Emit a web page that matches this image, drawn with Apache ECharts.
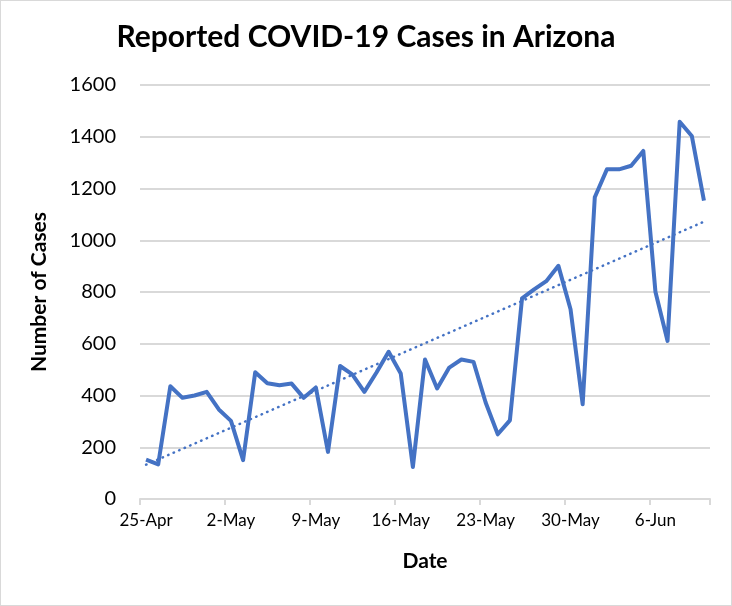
<!DOCTYPE html>
<html>
<head>
<meta charset="utf-8">
<script src="https://cdn.jsdelivr.net/npm/echarts@6/dist/echarts.min.js"></script>
<style>
html,body{margin:0;padding:0;background:#fff;}
#wrap{position:absolute;left:0;top:0;width:730px;height:604px;border:1px solid #d9d9d9;}
#chart{width:730px;height:604px;}
</style>
</head>
<body>
<div id="wrap"><div id="chart"></div></div>
<script>
const dates = ["25-Apr","26-Apr","27-Apr","28-Apr","29-Apr","30-Apr","1-May","2-May","3-May","4-May","5-May","6-May","7-May","8-May","9-May","10-May","11-May","12-May","13-May","14-May","15-May","16-May","17-May","18-May","19-May","20-May","21-May","22-May","23-May","24-May","25-May","26-May","27-May","28-May","29-May","30-May","31-May","1-Jun","2-Jun","3-Jun","4-Jun","5-Jun","6-Jun","7-Jun","8-Jun","9-Jun","10-Jun"];
const cases = [152,134,436,391,400,414,346,302,150,490,447,440,446,391,431,182,514,482,414,489,569,485,124,539,427,508,539,530,373,250,304,775,810,842,901,733,366,1166,1274,1274,1288,1345,801,611,1458,1403,1153];
const yTicks = [0,200,400,600,800,1000,1200,1400,1600];

// linear trendline (least squares) from the data
const n = cases.length;
let sx=0, sy=0, sxx=0, sxy=0;
for (let i=0;i<n;i++){ sx+=i; sy+=cases[i]; sxx+=i*i; sxy+=i*cases[i]; }
const slope = (n*sxy - sx*sy)/(n*sxx - sx*sx);
const icpt = (sy - slope*sx)/n;
const trend = cases.map((v,i)=> +(icpt + slope*i).toFixed(1));

const chart = echarts.init(document.getElementById('chart'));
const FONT = 'Lato, "Noto Sans", sans-serif';
chart.setOption({
  animation:false,
  title:{text:'Reported COVID-19 Cases in Arizona',left:'center',top:16,
    textStyle:{fontFamily:FONT,fontSize:30,fontWeight:'bold',color:'#000'}},
  grid:{left:139,right:21,top:84,bottom:106},
  xAxis:{type:'category',data:dates,boundaryGap:true,
    name:'Date',nameLocation:'middle',nameGap:52,
    nameTextStyle:{fontFamily:FONT,fontSize:21,fontWeight:'bold',color:'#000'},
    axisLine:{lineStyle:{color:'#d9d9d9',width:2}},
    axisTick:{show:true,interval:6,length:6,lineStyle:{color:'#d9d9d9',width:2}},
    axisLabel:{interval:6,fontFamily:FONT,fontSize:17,color:'#000',margin:13}},
  yAxis:{type:'value',min:0,max:1600,interval:200,
    name:'Number of Cases',nameLocation:'middle',nameGap:90,
    nameTextStyle:{fontFamily:FONT,fontSize:21,fontWeight:'bold',color:'#000'},
    axisLine:{show:false},axisTick:{show:false},
    axisLabel:{fontFamily:FONT,fontSize:20,color:'#000',margin:24,
      formatter:v=> yTicks.includes(v)? String(v):''},
    splitLine:{lineStyle:{color:'#d9d9d9',width:2}}},
  series:[
    {type:'line',data:cases,showSymbol:false,symbol:'none',
      lineStyle:{color:'#4472c4',width:4,join:'round'},z:3},
    {type:'line',data:trend,showSymbol:false,symbol:'none',
      lineStyle:{color:'#4472c4',width:2.5,type:[0.5,5.5],cap:'round'},z:2}
  ]
});
</script>
</body>
</html>
